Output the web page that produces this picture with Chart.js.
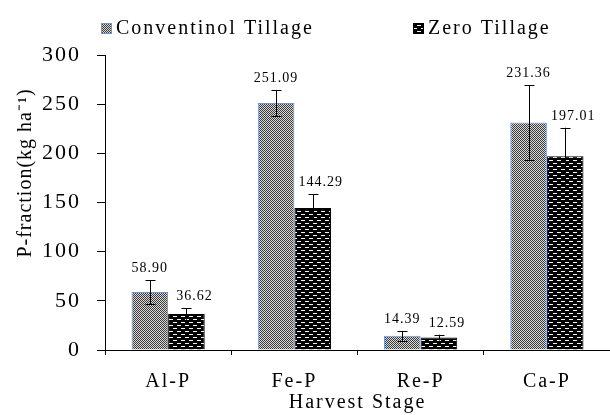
<!DOCTYPE html>
<html>
<head>
<meta charset="utf-8">
<script src="https://cdn.jsdelivr.net/npm/chart.js@4.4.0/dist/chart.umd.min.js"></script>
<style>
  html, body { margin: 0; padding: 0; background: #fff; }
  #wrap { width: 610px; height: 415px; }
</style>
</head>
<body>
<div id="wrap"><canvas id="pChart" width="610" height="415"></canvas></div>
<script>
const categories = ['Al-P', 'Fe-P', 'Re-P', 'Ca-P'];
const conventionalValues = [58.90, 251.09, 14.39, 231.36];
const zeroValues = [36.62, 144.29, 12.59, 197.01];
const conventionalErrors = [12, 13, 5, 38];
const zeroErrors = [6, 14, 3, 29];
const seriesNames = ['Conventinol Tillage', 'Zero Tillage'];
const yTitle = 'P-fraction(kg ha\u207B\u00B9)';

const serif = "'Liberation Serif', 'Times New Roman', serif";

// gray checker for conventional tillage
function checkerPattern() {
    const c = document.createElement('canvas');
    c.width = 2; c.height = 2;
    const g = c.getContext('2d');
    g.fillStyle = '#d8d8d8';
    g.fillRect(0, 0, 2, 2);
    g.fillStyle = '#3c3c3c';
    g.fillRect(0, 0, 1, 1);
    g.fillRect(1, 1, 1, 1);
    return g.createPattern(c, 'repeat');
}

// black with small white dashes for zero tillage
function dashPattern() {
    const c = document.createElement('canvas');
    c.width = 8; c.height = 6;
    const g = c.getContext('2d');
    g.fillStyle = '#000';
    g.fillRect(0, 0, 8, 6);
    g.fillStyle = '#f4f4f4';
    g.fillRect(1, 1, 4, 1);
    g.fillRect(5, 4, 3, 1);
    g.fillRect(0, 4, 1, 1);
    return g.createPattern(c, 'repeat');
}

const convFill = checkerPattern();
const zeroFill = dashPattern();

// the original text is rendered with loose letter spacing
const looseText = {
    id: 'looseText',
    beforeLayout(chart) { chart.ctx.letterSpacing = '2px'; },
    beforeDraw(chart) { chart.ctx.letterSpacing = '2px'; }
};

const errorBars = {
    id: 'errorBars',
    afterDatasetsDraw(chart) {
        const ctx = chart.ctx;
        const y = chart.scales.y;
        const errs = [conventionalErrors, zeroErrors];
        const vals = [conventionalValues, zeroValues];
        ctx.save();
        ctx.strokeStyle = '#000';
        ctx.lineWidth = 1;
        ctx.fillStyle = '#000';
        ctx.font = '14px ' + serif;
        ctx.letterSpacing = '1px';
        ctx.textAlign = 'center';
        ctx.textBaseline = 'alphabetic';
        for (let d = 0; d < 2; d++) {
            const meta = chart.getDatasetMeta(d);
            meta.data.forEach((bar, i) => {
                const x = Math.round(bar.x) + 0.5;
                const top = y.getPixelForValue(vals[d][i] + errs[d][i]);
                const bot = y.getPixelForValue(vals[d][i] - errs[d][i]);
                ctx.beginPath();
                ctx.moveTo(x, top);
                ctx.lineTo(x, bot);
                ctx.moveTo(x - 5, Math.round(top) + 0.5);
                ctx.lineTo(x + 5, Math.round(top) + 0.5);
                ctx.moveTo(x - 5, Math.round(bot) + 0.5);
                ctx.lineTo(x + 5, Math.round(bot) + 0.5);
                ctx.stroke();
                const shift = d === 1 ? 8 : 0;
                ctx.fillText(vals[d][i].toFixed(2), bar.x + shift, top - 8);
            });
        }
        ctx.restore();
    }
};

// legend and y title are placed by hand, the way the original has them
const extraText = {
    id: 'extraText',
    afterDraw(chart) {
        const ctx = chart.ctx;
        const area = chart.chartArea;
        const sets = chart.data.datasets;
        const boxX = [101, 413];
        ctx.save();
        ctx.font = '20px ' + serif;
        ctx.letterSpacing = '2px';
        ctx.fillStyle = '#000';
        ctx.textBaseline = 'middle';
        ctx.textAlign = 'left';
        sets.forEach((ds, i) => {
            ctx.fillStyle = ds.backgroundColor;
            ctx.fillRect(boxX[i], 23, 10, 10);
            ctx.strokeStyle = ds.borderColor;
            ctx.lineWidth = 1;
            ctx.strokeRect(boxX[i] + 0.5, 23.5, 10, 10);
            ctx.fillStyle = '#000';
            ctx.fillText(ds.label, boxX[i] + 15, 29);
        });

        ctx.translate(26, area.top + (area.bottom - area.top) * 0.40);
        ctx.rotate(-Math.PI / 2);
        ctx.letterSpacing = '1px';
        ctx.textAlign = 'center';
        ctx.fillText(yTitle, 0, 0);
        ctx.restore();
    }
};

new Chart(document.getElementById('pChart'), {
    type: 'bar',
    data: {
        labels: categories,
        datasets: [{
            label: seriesNames[0],
            data: conventionalValues,
            backgroundColor: convFill,
            borderColor: '#6f95d6',
            borderWidth: 1,
            borderSkipped: 'bottom'
        }, {
            label: seriesNames[1],
            data: zeroValues,
            backgroundColor: zeroFill,
            borderColor: '#000',
            borderWidth: 1,
            borderSkipped: 'bottom'
        }]
    },
    options: {
        responsive: false,
        animation: false,
        datasets: {
            bar: { categoryPercentage: 0.58, barPercentage: 1.0 }
        },
        layout: { padding: { left: 26, right: 0, top: 55, bottom: 0 } },
        scales: {
            x: {
                grid: {
                    offset: true,
                    drawOnChartArea: false,
                    drawTicks: true,
                    tickLength: 5,
                    color: '#000'
                },
                border: { color: '#000', width: 1 },
                ticks: {
                    color: '#000',
                    font: { family: serif, size: 20 },
                    padding: 15
                },
                title: {
                    display: true,
                    text: 'Harvest Stage',
                    color: '#000',
                    font: { family: serif, size: 20 },
                    padding: { top: -18, bottom: 0 }
                }
            },
            y: {
                min: 0,
                max: 300,
                ticks: {
                    stepSize: 50,
                    color: '#000',
                    font: { family: serif, size: 22 },
                    padding: 16
                },
                grid: {
                    drawOnChartArea: false,
                    drawTicks: true,
                    tickLength: 8,
                    color: '#000'
                },
                border: { color: '#000', width: 1 }
            }
        },
        plugins: {
            legend: { display: false },
            tooltip: { enabled: false }
        }
    },
    plugins: [looseText, errorBars, extraText]
});
</script>
</body>
</html>
